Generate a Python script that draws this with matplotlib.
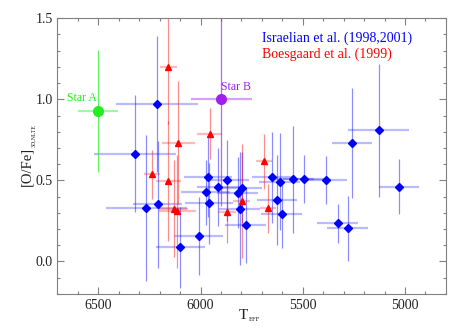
import matplotlib
matplotlib.use("Agg")
import matplotlib.pyplot as plt
from matplotlib.ticker import MultipleLocator

plt.rcParams['font.family'] = ['Liberation Serif', 'DejaVu Serif']

# Israelian et al. (1998,2001)
isr_teff = [6319, 6211, 6265, 6209, 6098, 6008, 5974, 5964, 5959, 5913, 5869, 5819, 5809,
            5799, 5779, 5649, 5626, 5613, 5603, 5547, 5495, 5384, 5328, 5279, 5260, 5129, 5028]
isr_ofe = [0.664, 0.969, 0.332, 0.352, 0.088, 0.158, 0.426, 0.523, 0.359, 0.459, 0.502, 0.424, 0.326,
           0.455, 0.223, 0.518, 0.379, 0.492, 0.291, 0.506, 0.508, 0.502, 0.236, 0.205, 0.732, 0.809, 0.461]
isr_xerr = [200, 200, 198, 120, 118, 120, 120, 118, 117, 105, 106, 100, 100,
            100, 100, 100, 100, 100, 100, 100, 100, 100, 100, 100, 98, 150, 98]
isr_yerr = [0.36, 0.42, 0.45, 0.39, 0.25, 0.24, 0.20, 0.25, 0.25, 0.24, 0.25, 0.22, 0.35,
            0.22, 0.23, 0.28, 0.28, 0.30, 0.21, 0.33, 0.15, 0.15, 0.12, 0.20, 0.34, 0.41, 0.17]

# Boesgaard et al. (1999)
boe_teff = [6157, 6237, 6157, 6108, 6132, 6114, 5956, 5871, 5799, 5691, 5670]
boe_ofe = [1.199, 0.537, 0.498, 0.732, 0.326, 0.309, 0.789, 0.305, 0.373, 0.619, 0.328]
boe_xerr = [40, 40, 61, 82, 70, 90, 60, 45, 40, 40, 40]
boe_yerr = [0.35, 0.15, 0.37, 0.38, 0.30, 0.35, 0.16, 0.19, 0.35, 0.17, 0.15]

# highlighted stars
star_names = ["Star A", "Star B"]
star_teff = [6500, 5899]
star_ofe = [0.928, 1.002]
star_xerr = [98, 150]
star_yerr = [0.375, 0.66]
star_cols = ["#22ee22", "#a020f0"]

fig = plt.figure(figsize=(4.63, 3.31), dpi=100)
ax = fig.add_axes([0.124, 0.112, 0.839, 0.833])

def bars(x, y, xe, ye, col, a=0.45):
    ax.errorbar(x, y, xerr=xe, fmt='none', ecolor=col, elinewidth=1.6, alpha=a*0.6, capsize=0)
    ax.errorbar(x, y, yerr=ye, fmt='none', ecolor=col, elinewidth=0.9, alpha=a, capsize=0)

bars(isr_teff, isr_ofe, isr_xerr, isr_yerr, "#0000ff")
bars(boe_teff, boe_ofe, boe_xerr, boe_yerr, "#ff0000")
ax.plot(isr_teff, isr_ofe, 'D', color="#0000ff", ms=4.5, mec="#0000ff", zorder=5)
ax.plot(boe_teff, boe_ofe, '^', color="#ff0000", ms=5, mec="#ff0000", zorder=5)

for i in range(2):
    bars([star_teff[i]], [star_ofe[i]], [star_xerr[i]], [star_yerr[i]], star_cols[i], a=0.7)
    ax.plot(star_teff[i], star_ofe[i], 'o', color=star_cols[i], ms=7, zorder=6)
ax.text(6505, 0.97, star_names[0], color=star_cols[0], fontsize=8.5, ha='right', va='bottom')
ax.text(5899, 1.04, star_names[1], color=star_cols[1], fontsize=8.5, ha='left', va='bottom')

ax.text(0.527, 0.928, "Israelian et al. (1998,2001)", color="#0000ff", fontsize=10,
        transform=ax.transAxes, ha='left', va='center')
ax.text(0.527, 0.870, "Boesgaard et al. (1999)", color="#ff0000", fontsize=10,
        transform=ax.transAxes, ha='left', va='center')

ax.set_xlim(6700, 4800)
ax.set_ylim(-0.2, 1.5)
ax.xaxis.set_major_locator(MultipleLocator(500))
ax.xaxis.set_minor_locator(MultipleLocator(100))
ax.yaxis.set_major_locator(MultipleLocator(0.5))
ax.yaxis.set_minor_locator(MultipleLocator(0.1))
ax.yaxis.set_major_formatter(matplotlib.ticker.FormatStrFormatter('%.1f'))
ax.tick_params(which='both', direction='in', top=True, right=True, color='#808080',
               labelsize=10, labelcolor='#222222', width=0.8)
ax.tick_params(which='major', length=5)
ax.tick_params(which='minor', length=2.5)
for s in ax.spines.values():
    s.set_color('#808080')

# axis titles with tiny subscripts (drawn as separate texts)
fig.text(0.535, 0.035, "T", fontsize=11, ha='right', va='baseline', color='#222222')
fig.text(0.537, 0.030, "EFF", fontsize=4.8, ha='left', va='baseline', color='#222222')
fig.text(0.072, 0.498, "[O/Fe]", fontsize=10.5, rotation=90, ha='right', va='center', color='#222222')
fig.text(0.078, 0.591, "3D,NLTE", fontsize=4.2, rotation=90, ha='right', va='center', color='#222222')

fig.savefig("out.png", dpi=100, facecolor="white")
